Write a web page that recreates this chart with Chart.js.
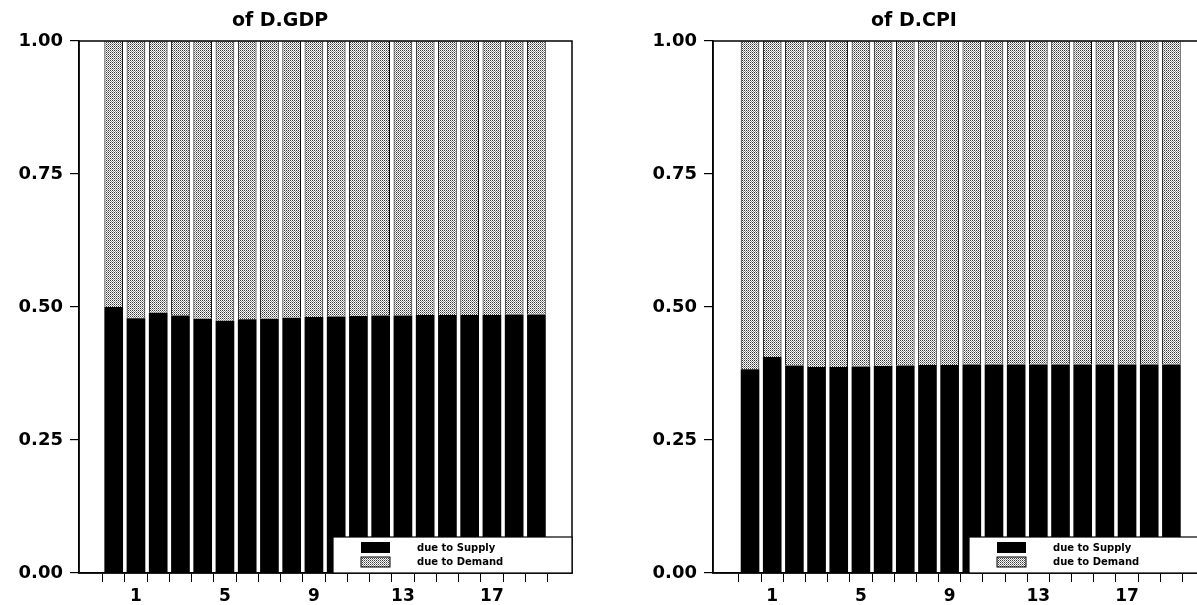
<!DOCTYPE html>
<html><head><meta charset="utf-8">
<script src="https://cdn.jsdelivr.net/npm/chart.js@4.4.1/dist/chart.umd.min.js"></script>
<style>
html,body{margin:0;padding:0;background:#fff;overflow:hidden;width:1197px;height:605px;position:relative}
#w1{position:absolute;left:0;top:0;width:598px;height:605px}
#w2{position:absolute;left:598px;top:0;width:620px;height:605px}
canvas{display:block}
</style></head><body>
<div id="w1"><canvas id="c1" width="598" height="605" style="width:598px;height:605px"></canvas></div>
<div id="w2"><canvas id="c2" width="620" height="605" style="width:620px;height:605px"></canvas></div>
<script>
// ---- data ----
const horizons = [0,1,2,3,4,5,6,7,8,9,10,11,12,13,14,15,16,17,18,19];
const xTickLabels = {1:'1',5:'5',9:'9',13:'13',17:'17'};
const yTicks = [0,0.25,0.5,0.75,1];
const yTickLabels = ['0.00','0.25','0.50','0.75','1.00'];
const seriesNames = ['due to Supply','due to Demand'];
const titles = ['of D.GDP','of D.CPI'];

const gdpSupply = [0.500,0.479,0.489,0.484,0.478,0.474,0.477,0.478,0.480,0.481,0.482,0.483,0.484,0.484,0.485,0.485,0.485,0.485,0.486,0.486];
const gdpDemand = [0.500,0.521,0.511,0.516,0.522,0.526,0.523,0.522,0.520,0.519,0.518,0.517,0.516,0.516,0.515,0.515,0.515,0.515,0.514,0.514];
const cpiSupply = [0.383,0.406,0.390,0.387,0.387,0.388,0.389,0.390,0.391,0.391,0.392,0.392,0.392,0.392,0.392,0.392,0.392,0.392,0.392,0.392];
const cpiDemand = [0.617,0.594,0.610,0.613,0.613,0.612,0.611,0.610,0.609,0.609,0.608,0.608,0.608,0.608,0.608,0.608,0.608,0.608,0.608,0.608];

// ---- style helpers ----
function stipple(){
  const c=document.createElement('canvas'); c.width=2; c.height=2;
  const g=c.getContext('2d');
  g.fillStyle='#ffffff'; g.fillRect(0,0,2,2);
  g.fillStyle='#3a3a3a'; g.fillRect(0,0,1,1);
  g.fillStyle='#8c8c8c'; g.fillRect(1,1,1,1);
  return c;
}
const FONT = "'DejaVu Sans', 'Liberation Sans', sans-serif";

const decor = {
  id:'decor',
  afterDatasetsDraw(chart, args, opts){
    const {ctx, chartArea:a} = chart;
    ctx.save();
    ctx.strokeStyle='#000';
    ctx.lineWidth=1.5;
    ctx.strokeRect(a.left, a.top, a.right-a.left, a.bottom-a.top);
    // legend box
    const bx=a.right-239, by=a.bottom-36;
    ctx.fillStyle='#fff';
    ctx.fillRect(bx, by, a.right-bx, a.bottom-by);
    ctx.lineWidth=1.2;
    ctx.strokeRect(bx, by, a.right-bx, a.bottom-by);
    // swatches
    ctx.fillStyle='#000';
    ctx.fillRect(a.right-211, a.bottom-31, 29, 11);
    ctx.fillStyle=ctx.createPattern(opts.pat,'repeat');
    ctx.fillRect(a.right-211, a.bottom-16, 29, 10);
    ctx.lineWidth=1; ctx.strokeStyle='#000';
    ctx.strokeRect(a.right-211, a.bottom-16, 29, 10);
    ctx.fillStyle='#000';
    ctx.font="bold 10px "+FONT;
    ctx.textBaseline='middle'; ctx.textAlign='left';
    ctx.fillText(seriesNames[0], a.right-155, a.bottom-25);
    ctx.fillText(seriesNames[1], a.right-155, a.bottom-11);
    // title
    ctx.font="bold 19px "+FONT;
    ctx.textAlign='center'; ctx.textBaseline='middle';
    ctx.fillText(opts.title, a.left+201, 21);
    ctx.restore();
  }
};

function makeChart(id, supply, demand, title, axisW, padRight, xmin, xmax){
  const pat = stipple();
  const ctx = document.getElementById(id).getContext('2d');
  const patFill = ctx.createPattern(pat,'repeat');
  return new Chart(ctx, {
    type:'bar',
    data:{
      datasets:[
        {label:seriesNames[0], data:horizons.map((h,i)=>({x:h,y:supply[i]})),
         backgroundColor:'#000', borderColor:'#000', borderWidth:0,
         barPercentage:0.84, categoryPercentage:1},
        {label:seriesNames[1], data:horizons.map((h,i)=>({x:h,y:demand[i]})),
         backgroundColor:patFill, borderColor:'#000', borderWidth:{left:1,right:1,top:0,bottom:0},
         barPercentage:0.84, categoryPercentage:1}
      ]
    },
    options:{
      responsive:false, animation:false, devicePixelRatio:1,
      layout:{padding:{left:0, top:41, right:padRight, bottom:0}},
      plugins:{legend:{display:false}, tooltip:{enabled:false}, title:{display:false},
               decor:{pat:pat, title:title}},
      scales:{
        x:{type:'linear', stacked:true, min:xmin, max:xmax, offset:false,
           afterBuildTicks:(s)=>{ s.ticks = horizons.map(v=>({value:v})); },
           afterFit:(s)=>{ s.height = 32; },
           grid:{drawOnChartArea:false, drawTicks:true, tickLength:9, color:'#000', lineWidth:1},
           border:{display:true, color:'#000', width:1.5},
           ticks:{autoSkip:false, maxRotation:0, padding:4, color:'#000',
                  font:{family:FONT, size:17, weight:'bold'},
                  callback:(v)=> (xTickLabels[v]!==undefined ? xTickLabels[v] : '')}
        },
        y:{type:'linear', stacked:true, min:0, max:1,
           afterBuildTicks:(s)=>{ s.ticks = yTicks.map(v=>({value:v})); },
           afterFit:(s)=>{ s.width = axisW; },
           grid:{drawOnChartArea:false, drawTicks:true, tickLength:9, color:'#000', lineWidth:1.2},
           border:{display:true, color:'#000', width:1.5},
           ticks:{padding:7, color:'#000', font:{family:FONT, size:18, weight:'bold'},
                  callback:(v)=> yTickLabels[yTicks.indexOf(v)]}
        }
      }
    },
    plugins:[decor]
  });
}
// left: axis at x=79, right border 572 ; right: axis at 713 (canvas offset 598 -> 115), right border 1208 -> 610
makeChart('c1', gdpSupply, gdpDemand, titles[0], 79, 598-572, -1.56, 20.6);
makeChart('c2', cpiSupply, cpiDemand, titles[1], 115, 620-610, -1.67, 20.65);
</script>
</body></html>
